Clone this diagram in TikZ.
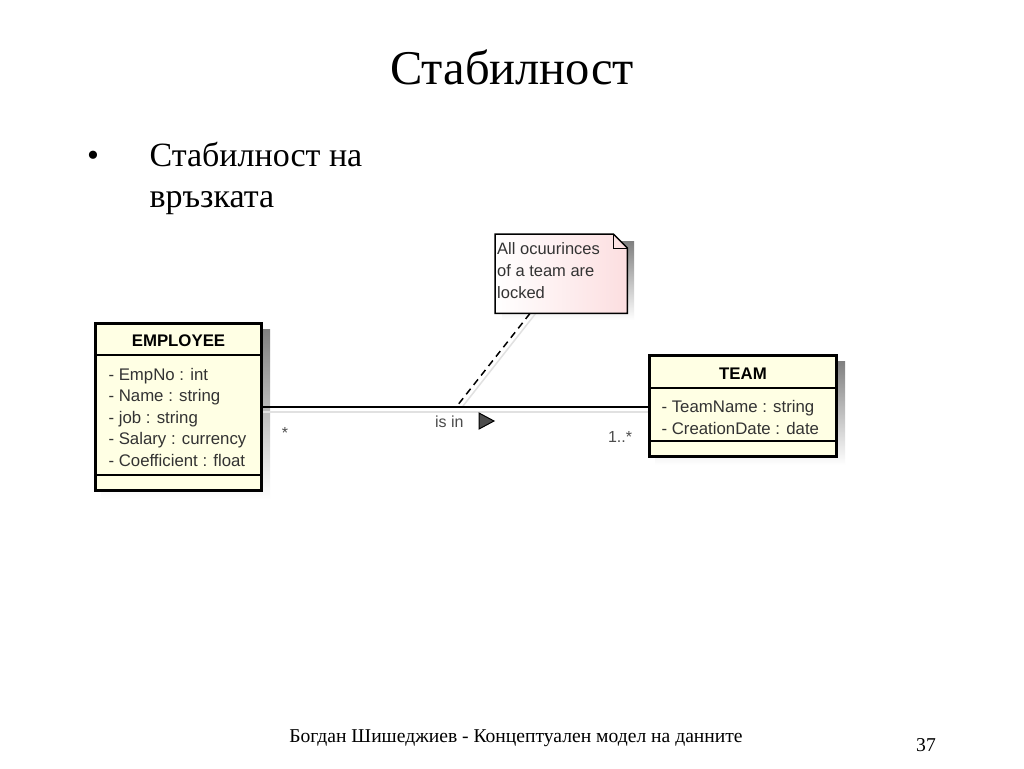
\documentclass[tikz,border=0pt]{standalone}
\usepackage{fontspec}
\setmainfont{Liberation Serif}
\newfontfamily\umlfont{Liberation Sans}
\definecolor{classfill}{RGB}{255,255,228}
\definecolor{notefill}{RGB}{252,222,224}
\definecolor{shade}{RGB}{205,205,205}
\begin{document}
\begin{tikzpicture}[x=1pt,y=-1pt,
  attr/.style={anchor=base west, font=\umlfont\fontsize{16.8}{20}\selectfont, text=black!80},
  head/.style={anchor=base, font=\umlfont\bfseries\fontsize{16.8}{20}\selectfont},
  mult/.style={anchor=base, font=\umlfont\fontsize{16}{20}\selectfont, text=black!70},
  umlbox/.style={draw, line width=3pt, fill=classfill, inner sep=0pt},
  sep/.style={line width=1.5pt}]
\useasboundingbox[fill=white] (0,0) rectangle (1024,768);
% title and bullet
\node[anchor=base, font=\fontsize{48.5}{54}\selectfont] (title) at (512,84) {Стабилност};
\node[anchor=base, font=\fontsize{34}{40}\selectfont] (dot) at (93,166) {•};
\node[anchor=base west, font=\fontsize{34}{40}\selectfont] (line1) at (146,166) {Стабилност на};
\node[anchor=base west, font=\fontsize{34}{40}\selectfont] (line2) at (146,207) {връзката};
% shadows
\fill[shade] (101,329) rectangle (270,499);
\fill[shade] (655,361) rectangle (845,465);
\fill[shade] (502,241) rectangle (634,320);
\draw[shade!60, line width=1.5pt] (263,412) -- (648,412);
\draw[shade!60, line width=1.5pt] (463,406) -- (536,313);
% classes
\node[umlbox, minimum width=166, minimum height=167] (emp) at (178.5,407) {};
\draw[sep] (emp.west |- 0,355) -- (emp.east |- 0,355);
\draw[sep] (emp.west |- 0,475) -- (emp.east |- 0,475);
\node[head] (emphead) at (emp.center |- 0,346) {EMPLOYEE};
\node[attr] (a1) at (105,380) {- EmpNo : int};
\node[attr] (a2) at (105,401) {- Name : string};
\node[attr] (a3) at (105,423) {- job : string};
\node[attr] (a4) at (105,444) {- Salary : currency};
\node[attr] (a5) at (105,466) {- Coefficient : float};
\node[umlbox, minimum width=187, minimum height=101] (team) at (743,406) {};
\draw[sep] (team.west |- 0,388) -- (team.east |- 0,388);
\draw[sep] (team.west |- 0,441) -- (team.east |- 0,441);
\node[head] (teamhead) at (team.center |- 0,379) {TEAM};
\node[attr] (t1) at (658,412) {- TeamName : string};
\node[attr] (t2) at (658,434) {- CreationDate : date};
% association
\draw[line width=1.2pt] (emp.east) -- (emp.east -| team.west);
\coordinate (link) at (457,406);
\node[mult] (m1) at (285,438) {*};
\node[mult] (m2) at (620,442) {1..*};
\node[mult, anchor=base east] (isin) at (467,427) {is in};
\draw[fill=black!70, line width=1pt] (479,413) -- (494,421) -- (479,429) -- cycle;
% note
\node[anchor=north west, inner sep=0pt, minimum width=132, minimum height=79] (note) at (495,234) {};
\shade[left color=white, right color=notefill]
  (note.north west) -- ([xshift=-14pt]note.north east) -- ([yshift=-14pt]note.north east) -- (note.south east) -- (note.south west) -- cycle;
\draw[line width=1.5pt]
  (note.north west) -- ([xshift=-14pt]note.north east) -- ([yshift=-14pt]note.north east) -- (note.south east) -- (note.south west) -- cycle;
\draw[line width=1pt] ([xshift=-14pt]note.north east) -- ([xshift=-14pt,yshift=-14pt]note.north east) -- ([yshift=-14pt]note.north east);
\node[anchor=north west, align=left, font=\umlfont\fontsize{16.5}{22}\selectfont, text=black!80, inner sep=0pt] (notetext) at (497,242) {All ocuurinces\\of a team are\\locked};
\draw[dashed, dash pattern=on 7pt off 5pt, line width=1.5pt] (note.south -| 530,0) -- (link);
% footer
\node[anchor=base, font=\fontsize{19.6}{24}\selectfont] (footer) at (516,742) {Богдан Шишеджиев - Концептуален модел на данните};
\node[anchor=base, font=\fontsize{19.6}{24}\selectfont] (page) at (926,751) {37};
\end{tikzpicture}
\end{document}
